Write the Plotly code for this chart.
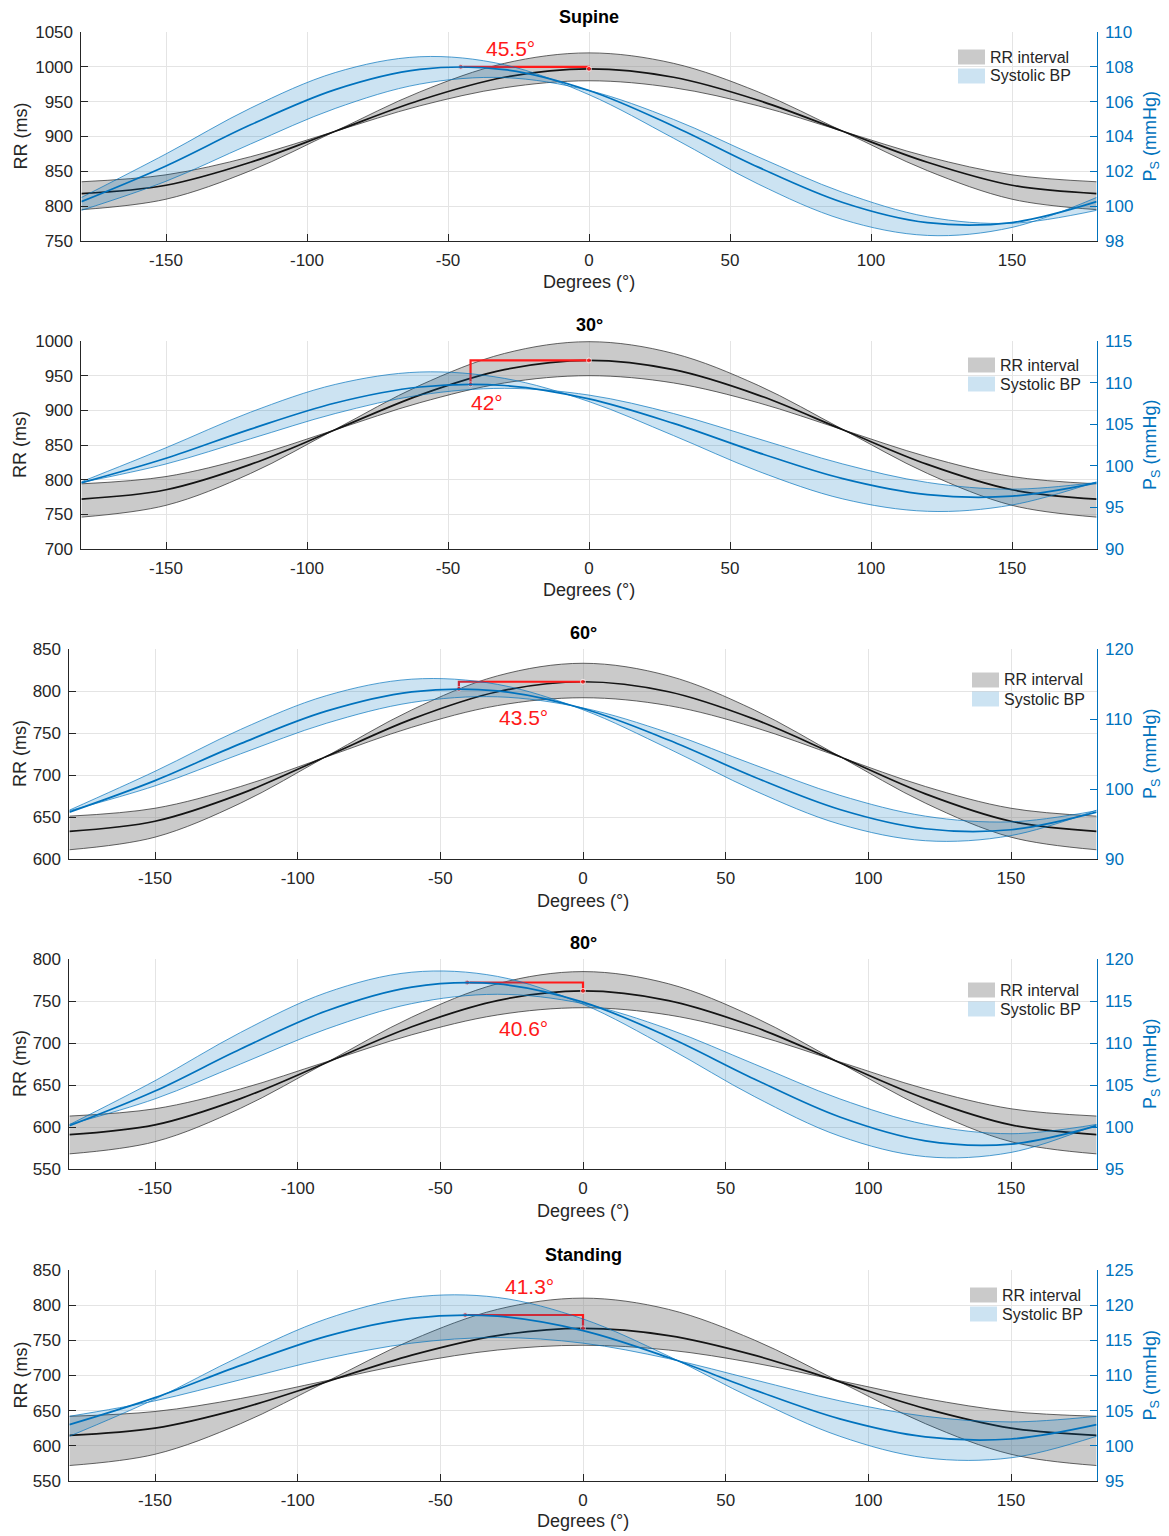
import plotly.graph_objects as go

# Angle grid (degrees) on which every curve is tabulated
deg = [-180, -150, -120, -90, -60, -30, 0, 30, 60, 90, 120, 150, 180]
x_ticks = [-150, -100, -50, 0, 50, 100, 150]
x_tick_labels = ["-150", "-100", "-50", "0", "50", "100", "150"]

panel_titles = ["Supine", "30°", "60°", "80°", "Standing"]

# RR interval (ms): fitted curve and the two confidence-band edges
supine_rr_mean = [818, 830, 863, 907.5, 952, 985, 997, 985, 952, 907.5, 863, 830, 818]
supine_rr_edge1 = [795, 810, 851, 907.5, 964, 1005, 1020, 1005, 964, 907.5, 851, 810, 795]
supine_rr_edge2 = [835, 845, 871, 907.5, 944, 970, 980, 970, 944, 907.5, 871, 845, 835]

tilt30_rr_mean = [772, 785.4, 822, 872, 922, 958.6, 972, 958.6, 922, 872, 822, 785.4, 772]
tilt30_rr_edge1 = [746, 763, 809, 872.5, 936, 982, 999, 982, 936, 872.5, 809, 763, 746]
tilt30_rr_edge2 = [794, 804.5, 833, 872, 911, 939.5, 950, 939.5, 911, 872, 833, 804.5, 794]

tilt60_rr_mean = [633, 644.9, 677.5, 722, 766.5, 799.1, 811, 799.1, 766.5, 722, 677.5, 644.9, 633]
tilt60_rr_edge1 = [611, 626, 666.5, 722, 777.5, 818, 833, 818, 777.5, 722, 666.5, 626, 611]
tilt60_rr_edge2 = [651, 660.4, 686.3, 721.5, 756.8, 782.6, 792, 782.6, 756.8, 721.5, 686.3, 660.4, 651]

tilt80_rr_mean = [591, 602.5, 633.8, 676.5, 719.3, 750.5, 762, 750.5, 719.3, 676.5, 633.8, 602.5, 591]
tilt80_rr_edge1 = [568, 582.5, 622.3, 676.5, 730.8, 770.5, 785, 770.5, 730.8, 676.5, 622.3, 582.5, 568]
tilt80_rr_edge2 = [613, 621.7, 645.3, 677.5, 709.8, 733.4, 742, 733.4, 709.8, 677.5, 645.3, 621.7, 613]

standing_rr_mean = [615, 625.2, 653, 691, 729, 756.8, 767, 756.8, 729, 691, 653, 625.2, 615]
standing_rr_edge1 = [572, 588, 631.5, 691, 750.5, 794, 810, 794, 750.5, 691, 631.5, 588, 572]
standing_rr_edge2 = [642, 648.8, 667.3, 692.5, 717.8, 736.2, 743, 736.2, 717.8, 692.5, 667.3, 648.8, 642]

# Systolic blood pressure (mmHg): fitted curve and band edges
supine_bp_mean = [100.26, 102.31, 104.67, 106.69, 107.85, 107.84, 106.64, 104.59, 102.24, 100.21, 99.05, 99.06, 100.26]
supine_bp_edge1 = [100.50, 103.00, 105.63, 107.67, 108.58, 108.12, 106.40, 103.90, 101.27, 99.23, 98.32, 98.78, 100.50]
supine_bp_edge2 = [99.76, 101.43, 103.57, 105.61, 107.01, 107.38, 106.64, 104.98, 102.83, 100.79, 99.39, 99.02, 99.76]

tilt30_bp_mean = [97.95, 100.90, 104.41, 107.55, 109.47, 109.65, 108.05, 105.10, 101.59, 98.45, 96.53, 96.35, 97.95]
tilt30_bp_edge1 = [98.08, 102.17, 106.45, 109.78, 111.27, 110.51, 107.72, 103.63, 99.35, 96.02, 94.53, 95.29, 98.08]
tilt30_bp_edge2 = [98.00, 100.22, 103.25, 106.28, 108.50, 109.31, 108.50, 106.28, 103.25, 100.22, 98.00, 97.19, 98.00]

tilt60_bp_mean = [96.70, 101.20, 106.48, 111.12, 113.88, 114.02, 111.50, 107.00, 101.72, 97.08, 94.32, 94.18, 96.70]
tilt60_bp_edge1 = [96.98, 102.53, 108.51, 113.33, 115.69, 114.95, 111.32, 105.77, 99.79, 94.97, 92.61, 93.35, 96.98]
tilt60_bp_edge2 = [96.90, 100.45, 105.02, 109.38, 112.36, 113.17, 111.58, 108.03, 103.46, 99.10, 96.12, 95.31, 96.90]

tilt80_bp_mean = [100.14, 104.28, 109.29, 113.81, 116.65, 117.03, 114.87, 110.72, 105.72, 101.19, 98.35, 97.97, 100.14]
tilt80_bp_edge1 = [100.28, 105.51, 111.26, 115.99, 118.43, 117.93, 114.62, 109.39, 103.64, 98.91, 96.47, 96.97, 100.28]
tilt80_bp_edge2 = [100.31, 103.35, 107.50, 111.65, 114.69, 115.80, 114.69, 111.65, 107.50, 103.35, 100.31, 99.20, 100.31]

standing_bp_mean = [103.01, 106.85, 111.44, 115.57, 118.13, 118.43, 116.39, 112.55, 107.96, 103.83, 101.27, 100.97, 103.01]
standing_bp_edge1 = [101.36, 106.65, 112.75, 118.04, 121.10, 121.10, 118.04, 112.75, 106.65, 101.36, 98.30, 98.30, 101.36]
standing_bp_edge2 = [104.20, 106.40, 109.40, 112.40, 114.60, 115.40, 114.60, 112.40, 109.40, 106.40, 104.20, 103.40, 104.20]

# Phase lag of the BP peak relative to the RR peak, and the two peak values
phase_lag = [45.5, 42, 43.5, 40.6, 41.3]
rr_peak = [997, 972, 811, 762, 767]
bp_peak = [108.0, 109.8, 114.3, 117.2, 118.6]

# Axis limits
rr_range = [[750, 1050], [700, 1000], [600, 850], [550, 800], [550, 850]]
rr_dtick = [50, 50, 50, 50, 50]
bp_range = [[98, 110], [90, 115], [90, 120], [95, 120], [95, 125]]
bp_dtick = [2, 5, 10, 5, 5]

rr_series = [
    (supine_rr_mean, supine_rr_edge1, supine_rr_edge2),
    (tilt30_rr_mean, tilt30_rr_edge1, tilt30_rr_edge2),
    (tilt60_rr_mean, tilt60_rr_edge1, tilt60_rr_edge2),
    (tilt80_rr_mean, tilt80_rr_edge1, tilt80_rr_edge2),
    (standing_rr_mean, standing_rr_edge1, standing_rr_edge2),
]
bp_series = [
    (supine_bp_mean, supine_bp_edge1, supine_bp_edge2),
    (tilt30_bp_mean, tilt30_bp_edge1, tilt30_bp_edge2),
    (tilt60_bp_mean, tilt60_bp_edge1, tilt60_bp_edge2),
    (tilt80_bp_mean, tilt80_bp_edge1, tilt80_bp_edge2),
    (standing_bp_mean, standing_bp_edge1, standing_bp_edge2),
]

# ---- page geometry (pixels) ----
W, H = 1169, 1536
plot_box = [(81.4, 1096.6, 32, 241), (81.4, 1096.6, 341, 549), (69.4, 1096.6, 649, 859),
            (69.4, 1096.6, 959, 1169), (69.4, 1096.6, 1270, 1481)]
title_y = [17, 325, 633, 943, 1255]
xlabel_y = [282, 590, 901, 1211, 1521]
legend_pos = [(958, 57), (968, 365), (972, 680), (968, 990), (970, 1295)]
lag_label_xy = [(-28, 1027), (-36, 912), (-21, 768), (-21, 717), (-18.6, 826)]

FONT = "Liberation Sans, Arial, sans-serif"
AX = "#262626"
BLUE = "#0072BD"
GRID = "#e4e4e4"
RR_FILL = "rgba(128,128,128,0.42)"
BP_FILL = "rgba(0,114,189,0.2)"


def px(x):
    return x / W


def py(y):
    return 1 - y / H


fig = go.Figure()
layout = {}
annotations = []
shapes = []

for i in range(5):
    xa = "x" if i == 0 else f"x{i + 1}"
    ya_rr = "y" if i == 0 else f"y{2 * i + 1}"
    ya_bp = f"y{2 * i + 2}"
    x0, x1, ytop, ybot = plot_box[i]

    # RR interval band + fitted curve (left axis)
    rr_mean, rr_e1, rr_e2 = rr_series[i]
    fig.add_trace(go.Scatter(x=deg, y=rr_e1, xaxis=xa, yaxis=ya_rr, mode="lines",
                             line=dict(width=0, shape="spline"), hoverinfo="skip", showlegend=False))
    fig.add_trace(go.Scatter(x=deg, y=rr_e2, xaxis=xa, yaxis=ya_rr, mode="lines", fill="tonexty",
                             fillcolor=RR_FILL, line=dict(width=0, shape="spline"),
                             name="RR interval", showlegend=False))
    for edge in (rr_e1, rr_e2):
        fig.add_trace(go.Scatter(x=deg, y=edge, xaxis=xa, yaxis=ya_rr, mode="lines",
                                 line=dict(color="#3c3c3c", width=0.8, shape="spline"),
                                 hoverinfo="skip", showlegend=False))
    fig.add_trace(go.Scatter(x=deg, y=rr_mean, xaxis=xa, yaxis=ya_rr, mode="lines",
                             line=dict(color="#141414", width=1.7, shape="spline"),
                             name="RR interval", showlegend=False))

    # Systolic BP band + fitted curve (right axis)
    bp_mean, bp_e1, bp_e2 = bp_series[i]
    fig.add_trace(go.Scatter(x=deg, y=bp_e1, xaxis=xa, yaxis=ya_bp, mode="lines",
                             line=dict(width=0, shape="spline"), hoverinfo="skip", showlegend=False))
    fig.add_trace(go.Scatter(x=deg, y=bp_e2, xaxis=xa, yaxis=ya_bp, mode="lines", fill="tonexty",
                             fillcolor=BP_FILL, line=dict(width=0, shape="spline"),
                             name="Systolic BP", showlegend=False))
    for edge in (bp_e1, bp_e2):
        fig.add_trace(go.Scatter(x=deg, y=edge, xaxis=xa, yaxis=ya_bp, mode="lines",
                                 line=dict(color=BLUE, width=0.8, shape="spline"),
                                 opacity=0.85, hoverinfo="skip", showlegend=False))
    fig.add_trace(go.Scatter(x=deg, y=bp_mean, xaxis=xa, yaxis=ya_bp, mode="lines",
                             line=dict(color=BLUE, width=1.7, shape="spline"),
                             name="Systolic BP", showlegend=False))

    # Phase-lag bracket: from the BP peak (mapped onto the RR axis) to the RR peak
    r0, r1 = rr_range[i]
    b0, b1 = bp_range[i]
    bp_on_rr = r0 + (bp_peak[i] - b0) * (r1 - r0) / (b1 - b0)
    top = max(bp_on_rr, rr_peak[i])
    fig.add_trace(go.Scatter(
        x=[-phase_lag[i], -phase_lag[i], 0, 0],
        y=[bp_on_rr, top, top, rr_peak[i]],
        xaxis=xa, yaxis=ya_rr, mode="lines+markers",
        line=dict(color="#ff1a1a", width=2.2),
        marker=dict(color="#ff1a1a", size=[5, 0, 0, 5]),
        hoverinfo="skip", showlegend=False))
    lx, ly = lag_label_xy[i]
    annotations.append(dict(x=lx, y=ly, xref=xa, yref=ya_rr, text=f"{phase_lag[i]:g}°",
                            showarrow=False, font=dict(family=FONT, size=21, color="#ff1a1a"),
                            xanchor="center", yanchor="middle"))

    # Axes
    key_x = "xaxis" if i == 0 else f"xaxis{i + 1}"
    key_rr = "yaxis" if i == 0 else f"yaxis{2 * i + 1}"
    key_bp = f"yaxis{2 * i + 2}"
    layout[key_x] = dict(domain=[px(x0), px(x1)], anchor=ya_rr, range=[-180, 180],
                         tickmode="array", tickvals=x_ticks, ticktext=x_tick_labels,
                         ticks="inside", ticklen=7, tickcolor=AX,
                         showline=True, linecolor=AX, linewidth=1, showgrid=True,
                         gridcolor=GRID, gridwidth=1, zeroline=False, automargin=False,
                         tickfont=dict(family=FONT, size=17, color=AX), ticklabelstandoff=4)
    layout[key_rr] = dict(domain=[py(ybot), py(ytop)], anchor=xa, range=rr_range[i],
                          dtick=rr_dtick[i], tick0=0, ticks="inside", ticklen=7, tickcolor=AX,
                          showline=True, linecolor=AX, linewidth=1, showgrid=True,
                          gridcolor=GRID, gridwidth=1, zeroline=False, automargin=False,
                          tickfont=dict(family=FONT, size=17, color=AX), ticklabelstandoff=4)
    layout[key_bp] = dict(overlaying=ya_rr, side="right", anchor=xa, range=bp_range[i],
                          dtick=bp_dtick[i], tick0=0, ticks="inside", ticklen=7, tickcolor=BLUE,
                          showline=True, linecolor=BLUE, linewidth=1, showgrid=False,
                          zeroline=False, automargin=False,
                          tickfont=dict(family=FONT, size=17, color=BLUE),
                          ticklabelstandoff=4)

    # Titles and axis labels
    xc = px((x0 + x1) / 2)
    annotations.append(dict(x=xc, y=py(title_y[i]), xref="paper", yref="paper",
                            text=panel_titles[i], showarrow=False,
                            font=dict(family=FONT, size=18, color="#000000", weight="bold"),
                            xanchor="center", yanchor="middle"))
    annotations.append(dict(x=xc, y=py(xlabel_y[i]), xref="paper", yref="paper",
                            text="Degrees (°)", showarrow=False,
                            font=dict(family=FONT, size=18, color=AX),
                            xanchor="center", yanchor="middle"))
    yc = py((ytop + ybot) / 2)
    annotations.append(dict(x=px(20), y=yc, xref="paper", yref="paper", text="RR (ms)",
                            textangle=-90, showarrow=False,
                            font=dict(family=FONT, size=18, color=AX),
                            xanchor="center", yanchor="middle"))
    annotations.append(dict(x=px(1151), y=yc, xref="paper", yref="paper",
                            text="P<sub>S</sub> (mmHg)", textangle=-90, showarrow=False,
                            font=dict(family=FONT, size=18, color=BLUE),
                            xanchor="center", yanchor="middle"))

    # Legend (swatches + labels)
    lxp, lyp = legend_pos[i]
    for k, (label, fc) in enumerate((("RR interval", RR_FILL), ("Systolic BP", BP_FILL))):
        cy = lyp + 19 * k
        shapes.append(dict(type="rect", xref="paper", yref="paper",
                           x0=px(lxp), x1=px(lxp + 27), y0=py(cy + 7.5), y1=py(cy - 7.5),
                           fillcolor=fc, line=dict(width=0)))
        annotations.append(dict(x=px(lxp + 30), y=py(cy), xref="paper", yref="paper",
                                text=label, showarrow=False,
                                font=dict(family=FONT, size=16, color=AX),
                                xanchor="left", yanchor="middle"))

fig.update_layout(
    width=W, height=H,
    margin=dict(l=0, r=0, t=0, b=0, autoexpand=False),
    plot_bgcolor="white", paper_bgcolor="white",
    showlegend=False,
    font=dict(family=FONT, color=AX),
    annotations=annotations,
    shapes=shapes,
    **layout,
)

fig.write_html("out.html")
